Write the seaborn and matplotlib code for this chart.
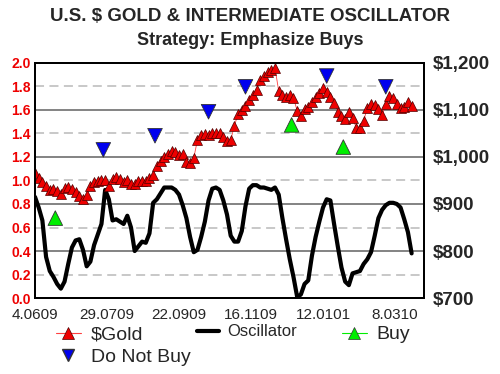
"""U.S. $ gold with intermediate oscillator and buy / do-not-buy signals."""

import matplotlib
matplotlib.use("Agg")
import matplotlib.pyplot as plt
from matplotlib.lines import Line2D
import numpy as np
import pandas as pd
import seaborn as sns

# gold close ($), sampled every 2nd trading day starting 4 Jun 2009
gold = [966, 955, 947, 938, 930, 932, 928, 921, 934, 936, 932, 926, 917, 911, 919,
        938, 947, 949, 951, 951, 938, 953, 957, 953, 947, 951, 943, 943, 949, 949,
        949, 955, 962, 981, 992, 1000, 1006, 1013, 1011, 1004, 1006, 989, 987, 998,
        1036, 1047, 1049, 1047, 1051, 1051, 1051, 1043, 1034, 1036, 1066, 1092, 1100,
        1109, 1121, 1132, 1143, 1164, 1172, 1181, 1185, 1189, 1140, 1132, 1128, 1132,
        1126, 1098, 1087, 1102, 1106, 1117, 1128, 1136, 1147, 1138, 1128, 1115, 1096,
        1087, 1081, 1096, 1083, 1062, 1062, 1077, 1104, 1113, 1111, 1102, 1089, 1113,
        1130, 1126, 1113, 1104, 1106, 1117, 1109]
# intermediate oscillator (left scale), same days
osc = [0.86, 0.77, 0.66, 0.35, 0.23, 0.18, 0.12, 0.08, 0.14, 0.29, 0.43, 0.49, 0.50,
       0.41, 0.27, 0.31, 0.45, 0.54, 0.63, 0.92, 0.84, 0.66, 0.67, 0.65, 0.63, 0.70,
       0.60, 0.40, 0.44, 0.48, 0.47, 0.55, 0.81, 0.84, 0.89, 0.94, 0.94, 0.94, 0.92,
       0.88, 0.79, 0.68, 0.52, 0.39, 0.41, 0.52, 0.65, 0.83, 0.93, 0.94, 0.92, 0.83,
       0.71, 0.53, 0.48, 0.48, 0.57, 0.78, 0.93, 0.96, 0.96, 0.94, 0.94, 0.93, 0.92,
       0.94, 0.88, 0.68, 0.50, 0.33, 0.18, 0.01, 0.03, 0.12, 0.15, 0.36, 0.52, 0.65,
       0.77, 0.84, 0.83, 0.63, 0.44, 0.26, 0.14, 0.11, 0.21, 0.22, 0.23, 0.29, 0.33,
       0.39, 0.53, 0.68, 0.75, 0.79, 0.81, 0.81, 0.80, 0.77, 0.67, 0.56, 0.38]

buy_day = [11, 139, 167]
buy_price = [870, 1068, 1021]
dnb_day = [37, 65, 94, 114, 158, 190]
dnb_price = [1015, 1045, 1096, 1149, 1172, 1149]

tick_days = [0, 39, 78, 117, 156, 195]
tick_labels = ["4.0609", "29.0709", "22.0909", "16.1109", "12.0101", "8.0310"]

df = pd.DataFrame({"day": np.arange(len(gold)) * 2, "gold": gold, "osc": osc})
signals = pd.concat([
    pd.DataFrame({"day": buy_day, "price": buy_price, "kind": "Buy"}),
    pd.DataFrame({"day": dnb_day, "price": dnb_price, "kind": "Do Not Buy"}),
])

sns.set_style("white")
plt.rcParams["font.family"] = ["Liberation Sans", "DejaVu Sans"]

fig = plt.figure(figsize=(5, 3.74), dpi=100)
ax = fig.add_axes([0.07, 0.203, 0.778, 0.629])
ax2 = ax.twinx()

# grid: dark lines at the $100 steps, light dashed between
left_ticks = np.round(np.arange(0, 2.01, 0.2), 1)
for i, v in enumerate(left_ticks):
    if i % 2 == 0:
        ax.axhline(v, color="#7a7a7a", lw=1.3, zorder=0)
    else:
        ax.axhline(v, color="#c4c4c4", lw=1.3, ls=(0, (5, 3)), zorder=0)

sns.lineplot(data=df, x="day", y="osc", color="black", lw=3, ax=ax, legend=False)

sns.lineplot(data=df, x="day", y="gold", color="#ff4040", lw=0.6, marker="^",
             markersize=7.5, markerfacecolor="#ee0000", markeredgecolor="#500000",
             markeredgewidth=0.5, ax=ax2, legend=False)
sns.scatterplot(data=signals, x="day", y="price", hue="kind", style="kind",
                palette={"Buy": "#00ee00", "Do Not Buy": "#0000ee"},
                markers={"Buy": "^", "Do Not Buy": "v"}, s=110,
                edgecolor="#333333", linewidth=0.6, ax=ax2, legend=False, zorder=5)

ax.set_xlim(0, 210.7)
ax.set_ylim(0, 2.0)
ax2.set_ylim(700, 1200)
ax.set_xticks(tick_days)
ax.set_xticklabels(tick_labels, fontsize=11)
ax.set_yticks(left_ticks)
ax.set_yticklabels([f"{v:.1f}" for v in left_ticks], color="#ee0000",
                   fontsize=10, fontweight="bold")
right_ticks = list(range(700, 1201, 100))
ax2.set_yticks(right_ticks)
ax2.set_yticklabels([f"${v:,}" for v in right_ticks], fontsize=13.5, fontweight="bold")
ax.tick_params(axis="x", length=0, pad=7)
ax.tick_params(axis="y", length=0, pad=3)
ax2.tick_params(axis="y", length=0, pad=6)
ax.set_xlabel("")
ax.set_ylabel("")
ax2.set_xlabel("")
ax2.set_ylabel("")
for a in (ax, ax2):
    for sp in a.spines.values():
        sp.set_color("black")
        sp.set_linewidth(1.4)

fig.text(0.5, 0.955, "U.S. $ GOLD & INTERMEDIATE OSCILLATOR", ha="center",
         va="center", fontsize=13.5, fontweight="bold")
fig.text(0.5, 0.893, "Strategy: Emphasize Buys", ha="center", va="center",
         fontsize=13, fontweight="bold")

h_gold = Line2D([], [], color="#ff4040", lw=0.8, marker="^", markersize=9,
                markerfacecolor="#ee0000", markeredgecolor="#500000", markeredgewidth=0.5)
h_dnb = Line2D([], [], color="none", marker="v", markersize=9,
               markerfacecolor="#0000ee", markeredgecolor="#333333")
h_osc = Line2D([], [], color="black", lw=3)
h_buy = Line2D([], [], color="#00ee00", lw=0.8, marker="^", markersize=9,
               markerfacecolor="#00ee00", markeredgecolor="#333333", markeredgewidth=0.5)
leg_kw = dict(frameon=False, handlelength=1.3, handletextpad=0.5, labelspacing=0.25,
              borderpad=0, fontsize=14)
fig.legend([h_gold, h_dnb], ["$Gold", "Do Not Buy"], loc="upper left",
           bbox_to_anchor=(0.092, 0.155), **leg_kw)
fig.legend([h_osc], ["Oscillator"], loc="upper left",
           bbox_to_anchor=(0.378, 0.155), **{**leg_kw, "fontsize": 12})
fig.legend([h_buy], ["Buy"], loc="upper left",
           bbox_to_anchor=(0.664, 0.155), **leg_kw)

fig.savefig("out.png", dpi=100)
